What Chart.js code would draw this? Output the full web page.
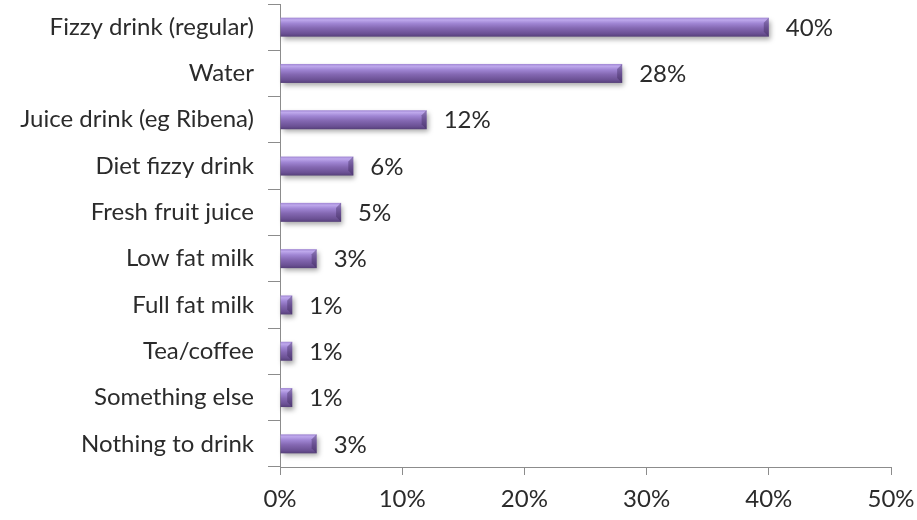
<!DOCTYPE html>
<html>
<head>
<meta charset="utf-8">
<script src="https://cdn.jsdelivr.net/npm/chart.js@4/dist/chart.umd.min.js"></script>
<style>
  html, body { margin: 0; padding: 0; background: #fff; }
  #wrap { width: 917px; height: 520px; }
</style>
</head>
<body>
<div id="wrap"><canvas id="drinksChart"></canvas></div>
<script>
let drinks = ["Fizzy drink (regular)", "Water", "Juice drink (eg Ribena)", "Diet fizzy drink", "Fresh fruit juice",
  "Low fat milk", "Full fat milk", "Tea/coffee", "Something else", "Nothing to drink"];
let shares = [40, 28, 12, 6, 5, 3, 1, 1, 1, 3];
let xTicks = [0, 10, 20, 30, 40, 50];

const axisGrey = "#8c8c8c";
const textColor = "#2b2b2b";
const labelFont = { family: "Lato, 'Open Sans', sans-serif", size: 24 };

// shaded purple bars with a drop shadow and a bevelled end
const bevelBars = {
  id: "bevelBars",
  beforeDatasetsDraw(chart) {
    let ctx = chart.ctx;
    let meta = chart.getDatasetMeta(0);
    meta.data.forEach((bar) => {
      let { x, y, base, height } = bar.getProps(["x", "y", "base", "height"], true);
      let top = y - height / 2;
      let w = x - base;
      ctx.save();
      ctx.shadowColor = "rgba(0,0,0,0.35)";
      ctx.shadowBlur = 5;
      ctx.shadowOffsetX = 2;
      ctx.shadowOffsetY = 3;
      let g = ctx.createLinearGradient(0, top, 0, top + height);
      g.addColorStop(0, "#a086d3");
      g.addColorStop(0.12, "#bea8ec");
      g.addColorStop(0.3, "#a086d4");
      g.addColorStop(0.55, "#8468b2");
      g.addColorStop(0.85, "#6a5093");
      g.addColorStop(1, "#553f79");
      ctx.fillStyle = g;
      ctx.fillRect(base, top, w, height);
      ctx.restore();

      // bevel at the bar end
      let b = Math.min(5, w / 2);
      ctx.save();
      ctx.beginPath();
      ctx.moveTo(x - b, top + b);
      ctx.lineTo(x, top);
      ctx.lineTo(x, top + height);
      ctx.lineTo(x - b, top + height - b);
      ctx.closePath();
      ctx.fillStyle = "rgba(60,40,90,0.4)";
      ctx.fill();
      ctx.restore();
    });
  },
  afterDatasetsDraw(chart) {
    let ctx = chart.ctx;
    let meta = chart.getDatasetMeta(0);
    ctx.save();
    ctx.font = `${labelFont.size}px ${labelFont.family}`;
    ctx.fillStyle = textColor;
    ctx.textAlign = "left";
    ctx.textBaseline = "middle";
    meta.data.forEach((bar, i) => {
      ctx.fillText(shares[i] + "%", bar.x + 17, bar.y + 1);
    });
    ctx.restore();
  },
};

const myChart = new Chart(document.getElementById("drinksChart"), {
  type: "bar",
  data: {
    labels: drinks,
    datasets: [
      {
        data: shares,
        backgroundColor: "rgba(0,0,0,0)",
        barPercentage: 0.41,
        categoryPercentage: 1,
      },
    ],
  },
  options: {
    indexAxis: "y",
    responsive: true,
    maintainAspectRatio: false,
    animation: false,
    layout: { padding: { top: 4, right: 26, left: 0, bottom: 0 } },
    plugins: { legend: { display: false }, tooltip: { enabled: false } },
    scales: {
      x: {
        min: 0,
        max: 50,
        afterBuildTicks: (scale) => {
          scale.ticks = xTicks.map((v) => ({ value: v }));
        },
        afterFit: (scale) => {
          scale.height = 53;
          scale.paddingLeft = 0;
          scale.paddingRight = 0;
        },
        grid: { drawOnChartArea: false, drawTicks: true, tickLength: 8, color: axisGrey },
        border: { color: axisGrey },
        ticks: {
          padding: 10,
          color: textColor,
          font: labelFont,
          callback: (v) => v + "%",
        },
      },
      y: {
        afterFit: (scale) => {
          scale.width = 280;
          scale.paddingTop = 0;
          scale.paddingBottom = 0;
        },
        grid: { offset: true, drawOnChartArea: false, drawTicks: true, tickLength: 12, color: axisGrey },
        border: { color: axisGrey },
        ticks: { padding: 14, color: textColor, font: labelFont },
      },
    },
  },
  plugins: [bevelBars],
});
</script>
</body>
</html>
